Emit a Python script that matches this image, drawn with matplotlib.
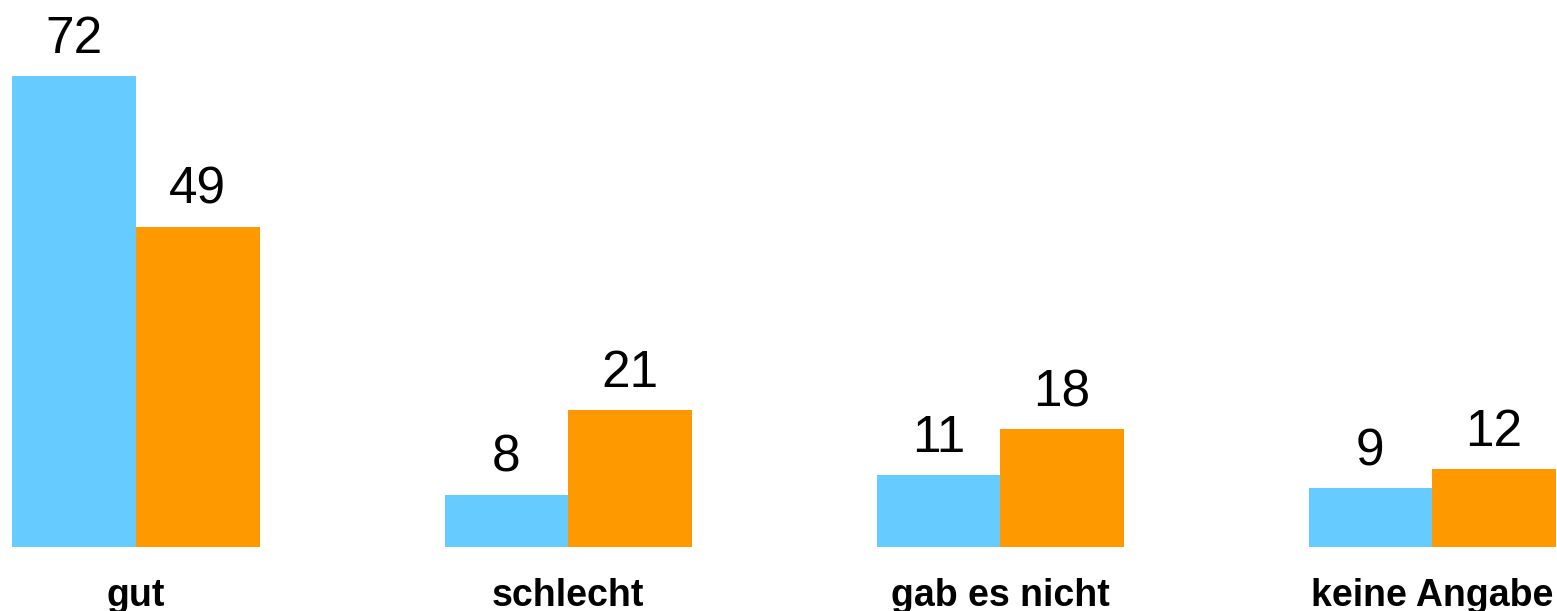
import matplotlib
matplotlib.use("Agg")
import matplotlib.pyplot as plt
import numpy as np

# data -------------------------------------------------------------------
categories = ['gut', 'schlecht', 'gab es nicht', 'keine Angabe']
series_a   = [72, 8, 11, 9]       # blue
series_b   = [49, 21, 18, 12]     # orange

color_a = '#66CCFF'
color_b = '#FF9900'

plt.rcParams['font.family'] = ['Liberation Sans', 'DejaVu Sans']

fig = plt.figure(figsize=(15.57, 6.11), dpi=100)
ax = fig.add_axes([0, 64 / 611, 1, 547 / 611])

x = np.arange(len(categories))
w = 123.5 / 432

bars_a = ax.bar(x - w / 2, series_a, w, color=color_a, linewidth=0)
bars_b = ax.bar(x + w / 2, series_b, w, color=color_b, linewidth=0)

# value labels above bars
for bars, vals in [(bars_a, series_a), (bars_b, series_b)]:
    for b, v in zip(bars, vals):
        ax.annotate(str(v), (b.get_x() + b.get_width() / 2, v),
                    xytext=(0, 12), textcoords='offset pixels',
                    ha='center', va='bottom', fontsize=37)

ax.set_xlim(-136 / 432, (1557 - 136) / 432)
ax.set_ylim(0, 547 / 6.54)

ax.set_xticks(x)
ax.set_xticklabels(categories, fontsize=27, fontweight='bold')
ax.tick_params(axis='x', length=0, pad=22)
ax.set_yticks([])
for s in ax.spines.values():
    s.set_visible(False)

fig.savefig('out.png', dpi=100)
